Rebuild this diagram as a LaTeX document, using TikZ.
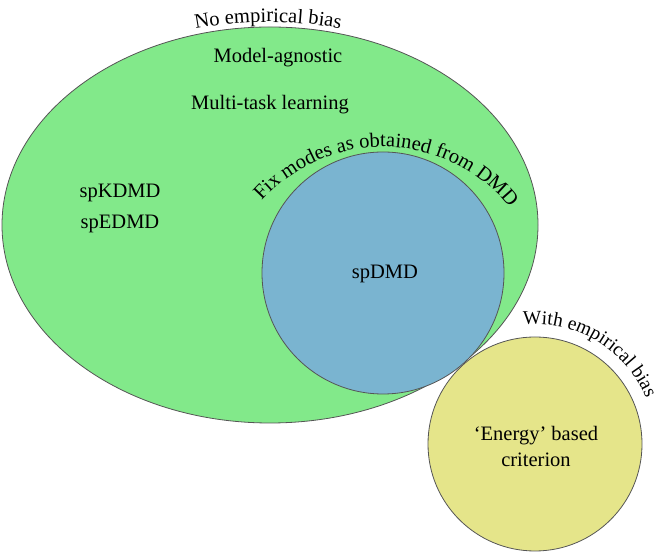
\documentclass[tikz,border=0pt]{standalone}
\usepackage{fontspec}
\setmainfont{Liberation Serif}
\usetikzlibrary{shapes.geometric,decorations.text}
\definecolor{setgreen}{RGB}{130,233,138}
\definecolor{setblue}{RGB}{122,180,208}
\definecolor{setyellow}{RGB}{229,229,138}
\definecolor{setline}{RGB}{85,85,85}
\newcommand{\lblfont}{\fontsize{20.5}{24}\selectfont}
\newcommand{\arcfont}{\fontsize{19.5}{23}\selectfont}
\tikzset{
  x=1pt, y=1pt,
  setshape/.style={draw=setline, line width=0.8pt, inner sep=0pt},
  lbl/.style={font=\lblfont, anchor=base, inner sep=0pt},
}
\begin{document}
\begin{tikzpicture}
\useasboundingbox (0,0) rectangle (655,553);
\node[setshape, ellipse, fill=setgreen, minimum width=536pt, minimum height=396pt] (nobias) at (270,328) {};
\node[setshape, circle, fill=setblue, minimum size=242pt] (fixmodes) at (383,280) {};
\node[setshape, circle, fill=setyellow, minimum size=214pt] (withbias) at (535,109) {};

\node[lbl] (modelag) at (278,490) {Model-agnostic};
\node[lbl] (multitask) at (270,443) {Multi-task learning};
\node[lbl] (spkdmd) at (120,355) {spKDMD};
\node[lbl] (spedmd) at (120,324) {spEDMD};
\node[lbl] (spdmd) at (385,274) {spDMD};
\node[lbl] (energy) at (536,112) {`Energy' based};
\node[lbl] (criterion) at (536,86) {criterion};

\path[decorate, decoration={text along path, text align=center,
  text={|\lblfont|No empirical bias}}]
  (268,131) ++(101:400) arc (101:79:400);
\path[decorate, decoration={text along path, text align=center,
  text={|\lblfont|Fix modes as obtained from DMD}}]
  (383,243) ++(141:163) arc (141:36:163);
\path[decorate, decoration={text along path, text align=center,
  text={|\arcfont|With empirical bias}}]
  (535,109) ++(100:120) arc (100:18:120);
\end{tikzpicture}
\end{document}
